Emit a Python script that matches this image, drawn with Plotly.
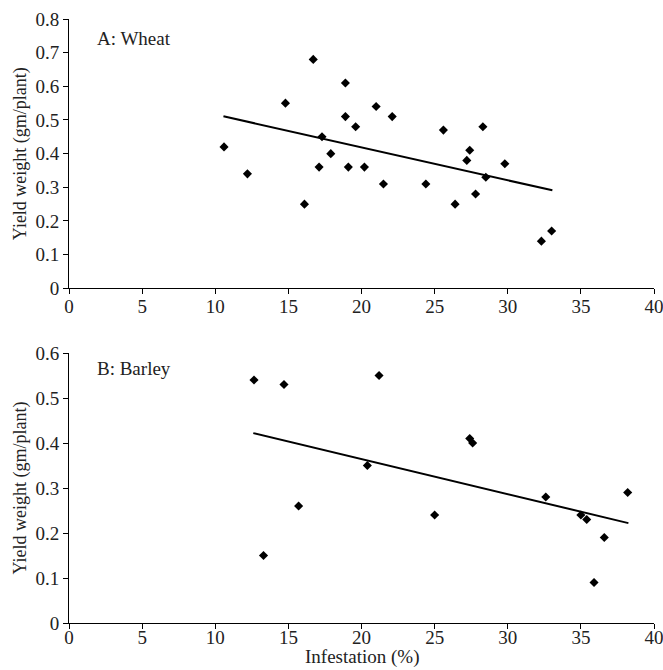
import plotly.graph_objects as go

# Panel A: Wheat
wheat_x = [10.6, 12.2, 14.8, 16.1, 16.7, 17.1, 17.3, 17.9, 18.9, 18.9, 19.1, 19.6, 20.2, 21.0, 21.5,
           22.1, 24.4, 25.6, 26.4, 27.2, 27.4, 27.8, 28.3, 28.5, 29.8, 32.3, 33.0]
wheat_y = [0.42, 0.34, 0.55, 0.25, 0.68, 0.36, 0.45, 0.40, 0.61, 0.51, 0.36, 0.48, 0.36, 0.54, 0.31,
           0.51, 0.31, 0.47, 0.25, 0.38, 0.41, 0.28, 0.48, 0.33, 0.37, 0.14, 0.17]
wheat_trend_x = [10.56, 33.05]
wheat_trend_y = [0.511, 0.291]

# Panel B: Barley
barley_x = [12.65, 13.3, 14.7, 15.7, 20.4, 21.2, 25.0, 27.4, 27.6, 32.6, 35.0, 35.4, 35.9, 36.6, 38.2]
barley_y = [0.54, 0.15, 0.53, 0.26, 0.35, 0.55, 0.24, 0.41, 0.40, 0.28, 0.24, 0.23, 0.09, 0.19, 0.29]
barley_trend_x = [12.6, 38.25]
barley_trend_y = [0.422, 0.222]

x_ticks = [0, 5, 10, 15, 20, 25, 30, 35, 40]
wheat_yticks = [0, 0.1, 0.2, 0.3, 0.4, 0.5, 0.6, 0.7, 0.8]
barley_yticks = [0, 0.1, 0.2, 0.3, 0.4, 0.5, 0.6]

FONT = "Liberation Serif, Times New Roman, serif"
FS = 19
TXT = "#222"

fig = go.Figure()
marker = dict(symbol="diamond", size=7, color="black")
fig.add_trace(go.Scatter(x=wheat_x, y=wheat_y, mode="markers", marker=marker, xaxis="x", yaxis="y"))
fig.add_trace(go.Scatter(x=wheat_trend_x, y=wheat_trend_y, mode="lines",
                         line=dict(color="black", width=2), xaxis="x", yaxis="y"))
fig.add_trace(go.Scatter(x=barley_x, y=barley_y, mode="markers", marker=marker, xaxis="x2", yaxis="y2"))
fig.add_trace(go.Scatter(x=barley_trend_x, y=barley_trend_y, mode="lines",
                         line=dict(color="black", width=2), xaxis="x2", yaxis="y2"))

axis_common = dict(showline=True, linecolor="black", linewidth=1, ticks="outside", ticklen=5,
                   tickcolor="black", showgrid=False, zeroline=False, ticklabeloverflow="allow",
                   tickfont=dict(family=FONT, size=FS, color=TXT))

H = 670
mt, mb = 19, 47
ph = H - mt - mb
top_dom = [(H - mb - 288.3) / ph, 1.0]
bot_dom = [0.0, (H - mb - 353) / ph]

title_font = dict(family=FONT, size=FS, color=TXT)
ytitle_font = dict(family=FONT, size=18, color=TXT)

fig.update_layout(
    width=663, height=670,
    margin=dict(l=69, r=9, t=mt, b=mb, autoexpand=False),
    paper_bgcolor="white", plot_bgcolor="white",
    showlegend=False,
    font=dict(family=FONT, color=TXT),
    xaxis=dict(axis_common, range=[0, 40], tickvals=x_ticks, domain=[0, 1], anchor="y",
               ticklabelstandoff=-4),
    yaxis=dict(axis_common, range=[0, 0.8], tickvals=wheat_yticks, domain=top_dom, anchor="x",
               title=dict(text="Yield weight (gm/plant)", font=ytitle_font, standoff=4)),
    xaxis2=dict(axis_common, range=[0, 40], tickvals=x_ticks, domain=[0, 1], anchor="y2",
                ticklabelstandoff=-8),
    yaxis2=dict(axis_common, range=[0, 0.6], tickvals=barley_yticks, domain=bot_dom, anchor="x2",
                title=dict(text="Yield weight (gm/plant)", font=ytitle_font, standoff=4)),
)
fig.add_annotation(text="A: Wheat", x=26 / 584.7, y=(288.3 - 38) / (288.3 - 19), xref="x domain", yref="y domain",
                   showarrow=False, xanchor="left", yanchor="middle", font=title_font)
fig.add_annotation(text="B: Barley", x=26 / 584.7, y=(623.3 - 369) / (623.3 - 353), xref="x2 domain", yref="y2 domain",
                   showarrow=False, xanchor="left", yanchor="middle", font=title_font)
# x-axis title for the bottom panel
fig.add_annotation(text="Infestation (%)", x=0.5, y=-mb / ph, xref="paper", yref="paper",
                   showarrow=False, xanchor="center", yanchor="bottom", font=title_font)

fig.write_html("out.html")
